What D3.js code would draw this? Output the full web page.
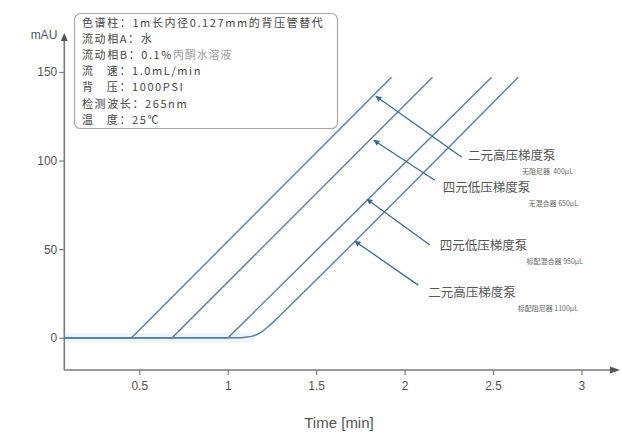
<!DOCTYPE html>
<html>
<head>
<meta charset="utf-8">
<script src="https://cdn.jsdelivr.net/npm/d3@7/dist/d3.min.js"></script>
<style>
  html, body { margin: 0; padding: 0; background: #fff; }
  svg { display: block; }
  text { font-family: "Liberation Sans", Arial, "Noto Sans CJK SC", sans-serif; }
  .cjk { font-family: "Noto Sans CJK SC", "Liberation Sans", sans-serif; }
</style>
</head>
<body>
<svg id="chart" width="622" height="434"></svg>
<script>
// Gradient delay curves: absorbance (mAU) against time (min)
const seriesA = [[0.076, 0], [0.456, 0], [1.926, 147]];   // 二元高压, 无阻尼器 400μL
const seriesB = [[0.076, 0], [0.686, 0], [2.158, 147]];   // 四元低压, 无混合器 650μL
const seriesC = [[0.076, 0], [1.002, 0], [2.492, 147]];   // 四元低压, 标配混合器 950μL
const seriesD = [[0.076, 0], [1.06, 0], [1.10, 0.3], [1.14, 0.9], [1.17, 2.1],
                 [1.20, 3.9], [1.23, 6.4], [1.26, 9.1], [1.30, 13], [2.642, 147]]; // 二元高压, 标配阻尼器 1100μL

const xTicks = [0.5, 1, 1.5, 2, 2.5, 3];
const yTicks = [0, 50, 100, 150];

const pumpNames = ["二元高压梯度泵", "四元低压梯度泵", "四元低压梯度泵", "二元高压梯度泵"];
const pumpNotes = ["无阻尼器  400μL", "无混合器 650μL", "标配混合器 950μL", "标配阻尼器 1100μL"];
// arrow heads (on the curves) and tails, in [min, mAU]
const arrowHeads = [[1.838, 136.3], [1.826, 111.5], [1.787, 78.2], [1.719, 54.5]];
const arrowTails = [[2.324, 101.9], [2.171, 88.9], [2.143, 52.3], [2.077, 29.7]];

const conditions = [
  ["色谱柱：1m长内径0.127mm的背压管替代", ""],
  ["流动相A：水", ""],
  ["流动相B：0.1%", "丙酮水溶液"],
  ["流   速：1.0mL/min", ""],
  ["背   压：1000PSI", ""],
  ["检测波长：265nm", ""],
  ["温   度：25℃", ""]
];

const svg = d3.select("#chart");
const x = d3.scaleLinear().domain([0.076, 3.218]).range([64.3, 620]);
const y = d3.scaleLinear().domain([-18.2, 172]).range([370, 33]);

const axisColor = "#7a7a7a";
const lineColor = "#557fa6";
const arrowColor = "#3d6a94";

const defs = svg.append("defs");
defs.append("marker")
  .attr("id", "head").attr("viewBox", "0 0 10 10")
  .attr("refX", 9).attr("refY", 5)
  .attr("markerWidth", 7).attr("markerHeight", 6)
  .attr("markerUnits", "userSpaceOnUse")
  .attr("orient", "auto")
  .append("path").attr("d", "M0,0 L10,5 L0,10 z").attr("fill", arrowColor);

// faint halo around the flat baseline
svg.append("line")
  .attr("x1", x(0.076)).attr("x2", x(1.15))
  .attr("y1", y(0)).attr("y2", y(0))
  .attr("stroke", "#f1f5f8").attr("stroke-width", 9);

// Y axis
const yAxis = d3.axisLeft(y).tickValues(yTicks).tickSize(5).tickPadding(2).tickFormat(d3.format("d"));
const gy = svg.append("g").attr("transform", `translate(${x.range()[0]},0)`).call(yAxis);
gy.select(".domain").attr("d", `M0,${y.range()[0]}V${y.range()[1] + 4}`);
// X axis
const xAxis = d3.axisBottom(x).tickValues(xTicks).tickSize(5).tickPadding(6).tickFormat(d3.format("~g"));
const gx = svg.append("g").attr("transform", `translate(0,${y.range()[0]})`).call(xAxis);
gx.select(".domain").attr("d", `M${x.range()[0]},0H${x.range()[1] - 6}`);

[gx, gy].forEach(g => {
  g.selectAll(".domain").attr("stroke", axisColor).attr("stroke-width", 1.6);
  g.selectAll(".tick line").attr("stroke", axisColor).attr("stroke-width", 1.2);
  g.selectAll(".tick text").attr("fill", "#555").attr("font-size", 12)
    .attr("font-family", "'Liberation Sans', Arial, sans-serif");
});

// axis arrowheads
const x0 = x.range()[0], yTop = y.range()[1], yBot = y.range()[0], xEnd = x.range()[1];
svg.append("path")
  .attr("d", `M${x0 - 3.5},${yTop + 8} L${x0},${yTop} L${x0 + 3.5},${yTop + 8} z`)
  .attr("fill", "#555");
svg.append("path")
  .attr("d", `M${xEnd - 10},${yBot - 3.5} L${xEnd},${yBot} L${xEnd - 10},${yBot + 3.5} z`)
  .attr("fill", "#555");

svg.append("text").attr("x", x0 - 7).attr("y", yTop + 6)
  .attr("text-anchor", "end").attr("font-size", 12).attr("fill", "#555").text("mAU");
svg.append("text").attr("x", 339).attr("y", 428)
  .attr("text-anchor", "middle").attr("font-size", 15).attr("fill", "#555").text("Time [min]");

// curves
const line = d3.line().x(d => x(d[0])).y(d => y(d[1]));
[seriesA, seriesB, seriesC].forEach(s => {
  svg.append("path").datum(s).attr("d", line.curve(d3.curveLinear))
    .attr("fill", "none").attr("stroke", lineColor).attr("stroke-width", 1.4);
});
svg.append("path").datum(seriesD).attr("d", line.curve(d3.curveMonotoneX))
  .attr("fill", "none").attr("stroke", lineColor).attr("stroke-width", 1.4);

// conditions box
const box = svg.append("g");
box.append("rect").attr("x", 74.5).attr("y", 13.5).attr("width", 263).attr("height", 115)
  .attr("rx", 6).attr("fill", "#fff").attr("stroke", "#a9a9a9").attr("stroke-width", 1.2);
conditions.forEach((c, i) => {
  const t = box.append("text").attr("class", "cjk")
    .attr("x", 82).attr("y", 26.5 + i * 16.2)
    .attr("font-size", 11).attr("letter-spacing", 1.6).attr("fill", "#444")
    .style("white-space", "pre");
  t.append("tspan").text(c[0]);
  if (c[1]) t.append("tspan").attr("fill", "#a0a0a0").attr("letter-spacing", 0.8).text(c[1]);
});

// annotation arrows and labels
arrowHeads.forEach((h, i) => {
  const tl = arrowTails[i];
  svg.append("line")
    .attr("x1", x(tl[0])).attr("y1", y(tl[1]))
    .attr("x2", x(h[0])).attr("y2", y(h[1]))
    .attr("stroke", arrowColor).attr("stroke-width", 1.3)
    .attr("marker-end", "url(#head)");
});
const nameOffsets = [[6, 3], [8, 12], [10, 5], [10, 12]];
const noteRight = [573, 578, 583, 578];
arrowTails.forEach((tl, i) => {
  const px = x(tl[0]) + nameOffsets[i][0], py = y(tl[1]) + nameOffsets[i][1];
  svg.append("text").attr("class", "cjk").attr("x", px).attr("y", py)
    .attr("font-size", 12.5).attr("fill", "#555").text(pumpNames[i]);
  svg.append("text").attr("class", "cjk").attr("x", noteRight[i]).attr("y", py + 14)
    .attr("text-anchor", "end").attr("font-size", 7).attr("fill", "#666")
    .style("white-space", "pre").text(pumpNotes[i]);
});
</script>
</body>
</html>
